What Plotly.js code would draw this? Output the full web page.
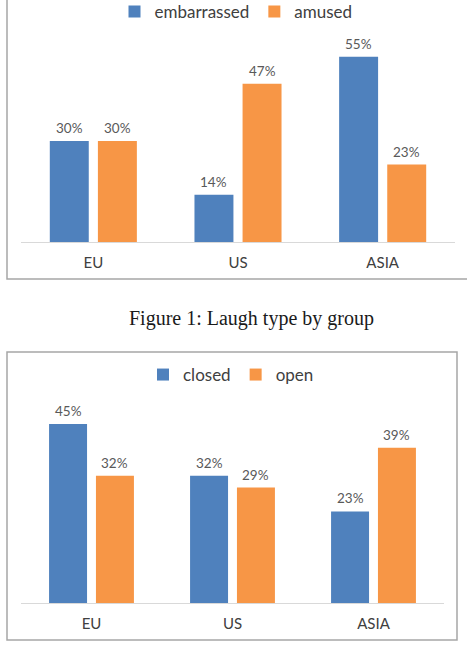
<!DOCTYPE html>
<html>
<head>
<meta charset="utf-8">
<script src="https://cdn.plot.ly/plotly-3.0.1.min.js"></script>
<style>
  html, body { margin: 0; padding: 0; background: #ffffff; }
  #chart { width: 467px; height: 661px; }
</style>
</head>
<body>
<div id="chart"></div>
<script>
// Groups and series for both panels
const groups = ['EU', 'US', 'ASIA'];

const laughSeries = ['embarrassed', 'amused'];
const embarrassed = [30, 14, 55];
const amused = [30, 47, 23];

const mouthSeries = ['closed', 'open'];
const closed = [45, 32, 23];
const open = [32, 29, 39];

const caption = 'Figure 1: Laugh type by group';

const W = 467, H = 661;
const BLUE = '#4f81bd';
const ORANGE = '#f79646';
const TEXT = '#404040';
const FONT = 'Lato, "Open Sans", sans-serif';
const BARGAP = 0.335, GROUPGAP = 0.19;

// pixel helpers -> paper fractions
const px = v => v / W;
const py = v => 1 - v / H;

// plot areas in pixels
const upperArea = { x0: 21, x1: 455, yb: 242, yt: 40, ymax: 60 };
const lowerArea = { x0: 21, x1: 444, yb: 603, yt: 404, ymax: 50 };

function bar(name, y, color, xa, ya, legend) {
  return {
    type: 'bar', name: name, x: groups, y: y,
    xaxis: xa, yaxis: ya, legend: legend,
    marker: { color: color, line: { width: 0 } },
    hoverinfo: 'skip'
  };
}

const data = [
  bar(laughSeries[0], embarrassed, BLUE, 'x', 'y', 'legend'),
  bar(laughSeries[1], amused, ORANGE, 'x', 'y', 'legend'),
  bar(mouthSeries[0], closed, BLUE, 'x2', 'y2', 'legend2'),
  bar(mouthSeries[1], open, ORANGE, 'x2', 'y2', 'legend2')
];

// value labels above each bar
function valueLabels(seriesList, area, xref, yref) {
  const slot = (area.x1 - area.x0) / groups.length;
  const off = slot * (1 - BARGAP) / 4;
  const out = [];
  seriesList.forEach((vals, s) => {
    vals.forEach((v, i) => {
      out.push({
        x: groups[i], y: v, xref: xref, yref: yref,
        text: v + '%', showarrow: false,
        xshift: s === 0 ? -off : off, yshift: 3,
        yanchor: 'bottom',
        font: { family: FONT, size: 13.5, color: '#595959' }
      });
    });
  });
  return out;
}

const annotations = [
  ...valueLabels([embarrassed, amused], upperArea, 'x', 'y'),
  ...valueLabels([closed, open], lowerArea, 'x2', 'y2'),
  {
    text: caption, xref: 'paper', yref: 'paper',
    x: px(252), y: py(318), xanchor: 'center', yanchor: 'middle',
    showarrow: false,
    font: { family: '"Liberation Serif", "Times New Roman", serif', size: 20, color: '#1a1a1a' }
  }
];

function xAxis(area, anchor) {
  return {
    domain: [px(area.x0), px(area.x1)], anchor: anchor,
    type: 'category', showgrid: false, zeroline: false,
    showline: true, linecolor: '#d9d9d9', linewidth: 1,
    ticks: '', ticklabelstandoff: 7,
    tickfont: { family: FONT, size: 15, color: TEXT },
    fixedrange: true, automargin: false
  };
}
function yAxis(area, anchor) {
  return {
    domain: [py(area.yb), py(area.yt)], anchor: anchor,
    range: [0, area.ymax], visible: false, fixedrange: true
  };
}

const legendBase = {
  orientation: 'h', xanchor: 'center', yanchor: 'middle',
  font: { family: FONT, size: 17, color: TEXT },
  bgcolor: 'rgba(0,0,0,0)', itemwidth: 30, traceorder: 'normal',
  itemclick: false, itemdoubleclick: false
};

const layout = {
  width: W, height: H,
  margin: { l: 0, r: 0, t: 0, b: 0, autoexpand: false },
  paper_bgcolor: '#ffffff', plot_bgcolor: 'rgba(0,0,0,0)',
  barmode: 'group', bargap: BARGAP, bargroupgap: GROUPGAP,
  showlegend: true,
  legend: Object.assign({}, legendBase, { x: px(236), y: py(12) }),
  legend2: Object.assign({}, legendBase, { x: px(231), y: py(375) }),
  xaxis: xAxis(upperArea, 'y'),
  yaxis: yAxis(upperArea, 'x'),
  xaxis2: xAxis(lowerArea, 'y2'),
  yaxis2: yAxis(lowerArea, 'x2'),
  annotations: annotations,
  shapes: [
    // frame of the upper chart (its top and right edges run off the page)
    { type: 'rect', xref: 'paper', yref: 'paper',
      x0: px(7), x1: px(470), y0: py(279), y1: py(-5),
      line: { color: '#a6a6a6', width: 1.5 }, fillcolor: 'rgba(0,0,0,0)' },
    // frame of the lower chart
    { type: 'rect', xref: 'paper', yref: 'paper',
      x0: px(7), x1: px(457), y0: py(640), y1: py(352),
      line: { color: '#a6a6a6', width: 1.5 }, fillcolor: 'rgba(0,0,0,0)' }
  ]
};

Plotly.newPlot('chart', data, layout, { displayModeBar: false, staticPlot: true });
</script>
</body>
</html>
